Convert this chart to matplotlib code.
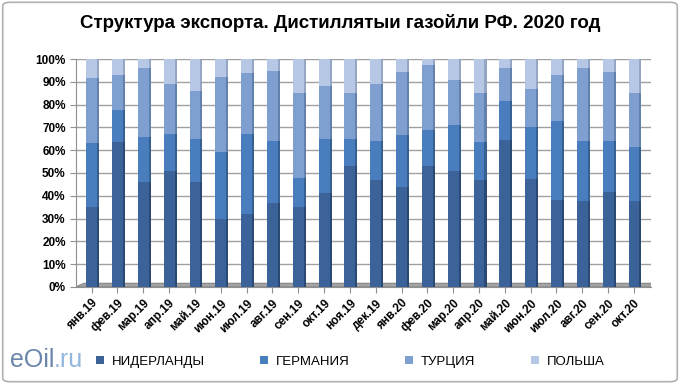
import numpy as np
import matplotlib.pyplot as plt
from matplotlib.patches import FancyBboxPatch, Polygon

plt.rcParams['font.family'] = ['Liberation Sans', 'DejaVu Sans']

months = ['янв.19', 'фев.19', 'мар.19', 'апр.19', 'май.19', 'июн.19', 'июл.19',
          'авг.19', 'сен.19', 'окт.19', 'ноя.19', 'дек.19', 'янв.20', 'фев.20',
          'мар.20', 'апр.20', 'май.20', 'июн.20', 'июл.20', 'авг.20', 'сен.20', 'окт.20']

# доли, %
netherlands = [35, 63.5, 46, 51, 46, 30, 32, 37, 35, 41, 53, 47, 44, 53, 51, 47, 64.5, 47.5, 38, 37.5, 41.5, 37.5]
germany = [28, 14, 20, 16, 19, 29, 35, 27, 13, 24, 12, 17, 22.5, 16, 20, 16.5, 17, 22.5, 35, 26.5, 22.5, 24]
turkey = [28.5, 15.5, 30, 22, 21, 33, 27, 31, 37, 23, 20, 25, 28, 28.5, 20, 21.5, 14.5, 17, 20, 32, 30.5, 23.5]
poland = [8.5, 7, 4, 11, 14, 8, 6, 5, 15, 12, 15, 11, 5.5, 2.5, 9, 15, 4, 13, 7, 4, 5.5, 15]

series = [('НИДЕРЛАНДЫ', netherlands, '#3b6399', '#2a4a75'),
          ('ГЕРМАНИЯ', germany, '#4a7dbd', '#35608f'),
          ('ТУРЦИЯ', turkey, '#7f9fd0', '#6281ad'),
          ('ПОЛЬША', poland, '#b7c7e6', '#95a6c4')]

fig = plt.figure(figsize=(6.8, 3.84), dpi=100)
fig.patches.append(FancyBboxPatch((0.004, 0.006), 0.992, 0.988, boxstyle='round,pad=0,rounding_size=0.01',
                                  transform=fig.transFigure, facecolor='white',
                                  edgecolor='#b0b0b0', linewidth=1.2, zorder=-1))

ax = fig.add_axes([0.112, 0.253, 0.845, 0.593])
x = np.arange(len(months))
w = 0.42
bottom = np.zeros(len(months))
for name, vals, col, dark in series:
    vals = np.array(vals)
    ax.bar(x, vals, width=w, bottom=bottom, color=col, edgecolor='none', label=name, zorder=3)
    # боковая грань
    ax.bar(x + w / 2 + 0.04, vals, width=0.08, bottom=bottom, color=dark, edgecolor='none', zorder=3)
    bottom += vals

# пол
ax.add_patch(Polygon([[-0.6, 0], [len(months) - 0.4, 0], [len(months) - 0.1, 1.5], [-0.3, 1.5]],
                     closed=True, facecolor='#a6a6a6', edgecolor='#8c8c8c', zorder=2))

ax.set_xlim(-0.6, len(months) - 0.35)
ax.set_ylim(0, 100)
ax.set_yticks(np.arange(0, 101, 10))
ax.set_yticklabels([f'{v}%' for v in range(0, 101, 10)], fontsize=8.5, fontweight='bold')
ax.set_xticks(x)
ax.set_xticklabels(months, rotation=45, ha='right', rotation_mode='anchor', fontsize=8.5, fontweight='bold')
ax.yaxis.grid(True, color='#a0a0a0', linewidth=1.0, zorder=0)
ax.set_axisbelow(True)
for s in ['top', 'right']:
    ax.spines[s].set_visible(False)
ax.spines['left'].set_color('#909090')
ax.spines['bottom'].set_color('#909090')
ax.tick_params(axis='both', color='#909090', length=4)

fig.text(0.5, 0.94, 'Структура экспорта. Дистиллятыи газойли РФ. 2020 год',
         ha='center', va='center', fontsize=13.5, fontweight='bold')

handles, labels = ax.get_legend_handles_labels()
fig.legend(handles, labels, loc='center', bbox_to_anchor=(0.515, 0.058), ncol=4, frameon=False,
           fontsize=9.5, handlelength=0.6, handleheight=0.6, columnspacing=4.2, handletextpad=0.6)

# логотип
logo = fig.text(0.014, 0.062, 'eOil', fontsize=18, color='#6b86ab', ha='left', va='center')
fig.canvas.draw()
bb = logo.get_window_extent().transformed(fig.transFigure.inverted())
fig.text(bb.x1, 0.062, '.ru', fontsize=18, color='#93b7dd', ha='left', va='center')

fig.savefig('out.png', dpi=100)
